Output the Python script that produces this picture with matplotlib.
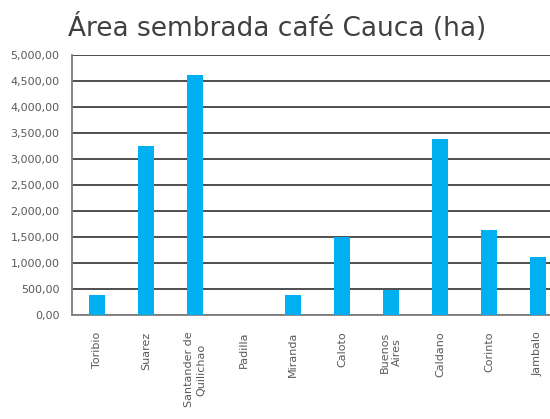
import numpy as np
import matplotlib
matplotlib.use("Agg")
import matplotlib.pyplot as plt
from matplotlib.ticker import FuncFormatter

# data
municipios = ["Toribio", "Suarez", "Santander de\nQuilichao", "Padilla", "Miranda",
              "Caloto", "Buenos\nAires", "Caldano", "Corinto", "Jambalo"]
area_ha = [385, 3250, 4615, 0, 385, 1500, 480, 3385, 1635, 1115]
y_ticks = np.arange(0, 5001, 500)

BLUE = "#00B0F0"
GRID = "#404040"
TEXT = "#595959"

plt.rcParams['font.family'] = ['DejaVu Sans']

fig = plt.figure(figsize=(5.5, 4.19), dpi=100)
ax = fig.add_axes([72/550, 1 - 315/419, 1 - 72/550, (315 - 55)/419])

x = np.arange(len(municipios))
ax.bar(x, area_ha, width=0.33, color=BLUE, zorder=3)

ax.set_ylim(0, 5000)
ax.set_xlim(-0.51, len(municipios) - 1 + 0.245)
ax.set_yticks(y_ticks)

def es_fmt(v, pos):
    # thousands with comma, decimals with comma (as in the original)
    return "{:,.0f},00".format(v)

ax.yaxis.set_major_formatter(FuncFormatter(es_fmt))
ax.yaxis.grid(True, color=GRID, linewidth=1.3, zorder=0)
ax.set_axisbelow(True)

ax.set_xticks(x)
ax.set_xticklabels(municipios, rotation=90, ha="center", va="top",
                   fontsize=8, color=TEXT, linespacing=1.3)
ax.tick_params(axis="x", length=0, pad=12)
ax.tick_params(axis="y", length=0, pad=9, labelsize=8, labelcolor=TEXT)

for side in ["top", "right"]:
    ax.spines[side].set_visible(False)
for side in ["left", "bottom"]:
    ax.spines[side].set_color("#7f7f7f")
    ax.spines[side].set_linewidth(1.3)

fig.text(277/550, 1 - 27/419, "Área sembrada café Cauca (ha)", ha="center", va="center",
         fontsize=19, color="#404040")

fig.savefig("out.png", dpi=100)
